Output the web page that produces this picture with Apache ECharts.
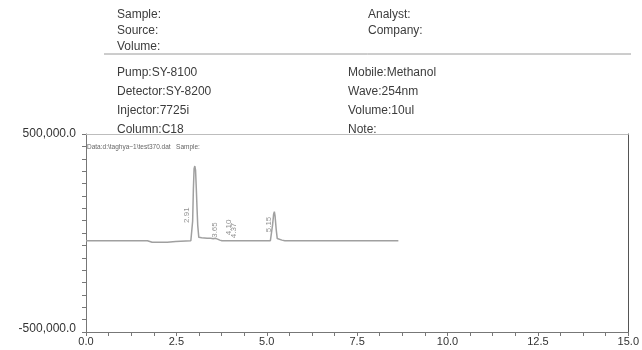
<!DOCTYPE html>
<html>
<head>
<meta charset="utf-8">
<script src="https://cdn.jsdelivr.net/npm/echarts@6/dist/echarts.min.js"></script>
<style>
html,body{margin:0;padding:0;background:#fff;}
#chart{width:642px;height:350px;}
</style>
</head>
<body>
<div id="chart"></div>
<script>
// ---- data ----
var times  = [0, 1.70, 1.74, 1.83, 2.25, 2.29, 2.48, 2.52, 2.90, 2.93, 2.95, 2.97, 2.99, 3.01, 3.03, 3.05, 3.07, 3.09, 3.12, 3.20, 3.35, 3.45, 3.52, 3.58, 3.64, 3.70, 3.76, 5.10, 5.13, 5.16, 5.19, 5.21, 5.23, 5.26, 5.29, 5.33, 5.42, 5.50, 8.64];
var signal = [-39000, -39000, -46000, -47000, -47000, -43000, -43000, -39000, -39000, -34000, 60000, 220000, 325000, 338000, 318000, 230000, 130000, 40000, -22000, -24000, -26000, -27000, -29000, -27000, -31000, -36000, -39000, -39000, -30000, 40000, 95000, 108000, 85000, 20000, -28000, -33000, -36000, -39000, -39000];
var peakLabels  = ['2.91', '3.65', '4.10', '4.37', '5.15'];
var peakLabelAt = [2.78, 3.56, 3.95, 4.09, 5.07];
var peakLabelY  = [90000, 15000, 28000, 12600, 43000];
var xTickLabels = ['0.0', '2.5', '5.0', '7.5', '10.0', '12.5', '15.0'];
var yTickLabels = ['-500,000.0', '500,000.0'];
var headerLeftTop   = ['Sample:', 'Source:', 'Volume:'];
var headerRightTop  = ['Analyst:', 'Company:'];
var headerLeftBot   = ['Pump:SY-8100', 'Detector:SY-8200', 'Injector:7725i', 'Column:C18'];
var headerRightBot  = ['Mobile:Methanol', 'Wave:254nm', 'Volume:10ul', 'Note:'];
var dataFileText = 'Data:d:\\taghya~1\\test370.dat   Sample:';

var chart = echarts.init(document.getElementById('chart'), null, {renderer: 'canvas'});
var FONT = '"Liberation Sans", Arial, sans-serif';

function hdr(list, x, ys) {
  return list.map(function (t, i) {
    return {type: 'text', left: x, top: ys[i], z: 100,
      style: {text: t, font: '12px ' + FONT, fill: '#3c3c3c'}};
  });
}
var topYs = [9, 25, 41];
var botYs = [67, 86, 105, 124];
var graphics = [].concat(
  hdr(headerLeftTop, 117, topYs),
  hdr(headerRightTop, 368, topYs),
  hdr(headerLeftBot, 117, botYs),
  hdr(headerRightBot, 348, botYs),
  [{type: 'line', z: 50, shape: {x1: 104, y1: 54, x2: 631, y2: 54}, style: {stroke: '#9a9a9a', lineWidth: 1}},
   {type: 'text', left: 87, top: 144, z: 100,
    style: {text: dataFileText, font: '6.5px ' + FONT, fill: '#666'}}]
);

var seriesData = times.map(function (t, i) { return [t, signal[i]]; });
var labelData = peakLabels.map(function (l, i) { return {value: [peakLabelAt[i], peakLabelY[i]], name: l}; });

chart.setOption({
  animation: false,
  backgroundColor: '#fff',
  grid: {left: 86, right: 10, top: 134, bottom: 18, containLabel: false},
  xAxis: [{
    type: 'value', min: 0, max: 15, interval: 0.625, position: 'bottom',
    axisLine: {show: true, onZero: false, lineStyle: {color: '#777', width: 1}},
    axisTick: {show: true, length: 4, lineStyle: {color: '#777'}},
    splitLine: {show: false},
    axisLabel: {
      color: '#333', fontSize: 11, fontFamily: FONT, margin: 4, showMaxLabel: true, showMinLabel: true,
      formatter: function (v) {
        var k = Math.round(v / 2.5);
        if (Math.abs(v - k * 2.5) < 1e-6) return xTickLabels[k];
        return '';
      }
    }
  }, {
    type: 'value', min: 0, max: 15, position: 'top',
    axisLine: {show: true, onZero: false, lineStyle: {color: '#bdbdbd', width: 1}},
    axisTick: {show: false}, axisLabel: {show: false}, splitLine: {show: false}
  }],
  yAxis: [{
    type: 'value', min: -500000, max: 500000, interval: 62500, position: 'left',
    axisLine: {show: true, onZero: false, lineStyle: {color: '#777', width: 1}},
    axisTick: {show: true, length: 4, lineStyle: {color: '#777'}},
    splitLine: {show: false},
    axisLabel: {
      color: '#333', fontSize: 12, fontFamily: FONT, margin: 10, showMaxLabel: true, showMinLabel: true,
      formatter: function (v) {
        if (v === 500000) return yTickLabels[1];
        if (v === -500000) return '{b|' + yTickLabels[0] + '}';
        return '';
      },
      rich: {b: {fontSize: 12, fontFamily: FONT, color: '#333', padding: [0, 0, 6, 0]}}
    }
  }, {
    type: 'value', min: -500000, max: 500000, position: 'right',
    axisLine: {show: true, onZero: false, lineStyle: {color: '#555', width: 1}},
    axisTick: {show: false}, axisLabel: {show: false}, splitLine: {show: false}
  }],
  series: [{
    type: 'line', data: seriesData, symbol: 'none', smooth: false,
    lineStyle: {color: '#a0a0a0', width: 1.5}, z: 3
  }, {
    type: 'scatter', data: labelData, symbolSize: 0, silent: true,
    label: {show: true, position: 'inside', rotate: 90, formatter: '{b}', fontSize: 8, fontFamily: FONT, color: '#777'}
  }],
  graphic: graphics
});
</script>
</body>
</html>
